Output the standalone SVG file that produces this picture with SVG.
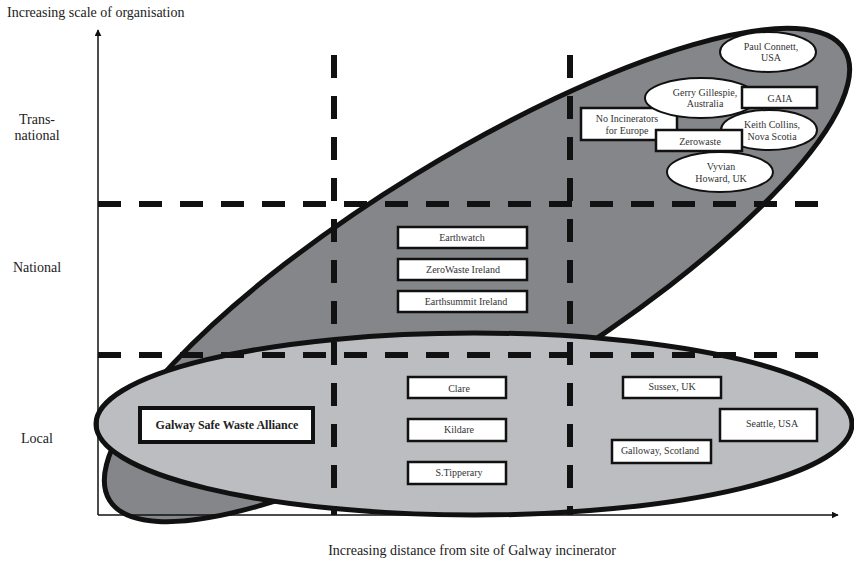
<svg xmlns="http://www.w3.org/2000/svg" width="854" height="561" viewBox="0 0 854 561">
  <style>
    .lbl { font-size: 14px; fill: #222; }
    .t { font-size: 10px; text-anchor: middle; fill: #333; }
    .box { fill: #fff; stroke: #111; stroke-width: 2.5; }
    .oval { fill: #fff; stroke: #111; stroke-width: 2; }
    .grid { stroke: #111; stroke-width: 6; stroke-dasharray: 23 18; fill: none; }
    .axis { stroke: #111; stroke-width: 1.5; fill: none; }
  </style>
  <defs>
    <marker id="arr" viewBox="0 0 10 10" refX="9" refY="5" markerWidth="7" markerHeight="7" orient="auto" markerUnits="userSpaceOnUse">
      <path d="M0,0 L10,5 L0,10 z" fill="#111"/>
    </marker>
  </defs>
  <rect width="854" height="561" fill="#fff"/>

  <!-- axis titles and row labels -->
  <g font-family="Liberation Serif, serif">
    <text class="lbl" font-family="Liberation Serif" x="7" y="17">Increasing scale of organisation</text>
    <text class="lbl" font-family="Liberation Serif" x="472" y="555" text-anchor="middle">Increasing distance from site of Galway incinerator</text>
    <text class="lbl" font-family="Liberation Serif" x="37" y="124" text-anchor="middle">Trans-</text>
    <text class="lbl" font-family="Liberation Serif" x="37" y="140" text-anchor="middle">national</text>
    <text class="lbl" font-family="Liberation Serif" x="37" y="272" text-anchor="middle">National</text>
    <text class="lbl" font-family="Liberation Serif" x="37" y="443" text-anchor="middle">Local</text>
  </g>

  <!-- regions -->
  <g id="region-wide">
    <ellipse cx="477" cy="275" rx="431" ry="118" transform="rotate(-31.5 477 275)" fill="#85868a" stroke="#111" stroke-width="5"/>
  </g>
  <g id="region-local">
    <ellipse cx="474" cy="424" rx="378" ry="91" fill="#bcbdc0" stroke="#111" stroke-width="5"/>
  </g>

  <!-- axes and grid -->
  <g id="connectors">
    <line class="axis" x1="98" y1="515" x2="98" y2="30" marker-end="url(#arr)"/>
    <line class="axis" x1="98" y1="515" x2="838" y2="515" marker-end="url(#arr)"/>
    <line class="grid" x1="98" y1="204" x2="828" y2="204"/>
    <line class="grid" x1="98" y1="355" x2="828" y2="355"/>
    <line class="grid" x1="334" y1="55" x2="334" y2="515"/>
    <line class="grid" x1="570" y1="55" x2="570" y2="515"/>
  </g>

  <g font-family="Liberation Serif, serif">
  <!-- national tier -->
  <g id="earthwatch"><rect class="box" x="398" y="227" width="129" height="21"/><text class="t" font-family="Liberation Serif" x="462" y="241">Earthwatch</text></g>
  <g id="zerowaste-ireland"><rect class="box" x="398" y="259" width="129" height="21"/><text class="t" font-family="Liberation Serif" x="463" y="273">ZeroWaste Ireland</text></g>
  <g id="earthsummit-ireland"><rect class="box" x="398" y="291" width="129" height="21"/><text class="t" font-family="Liberation Serif" x="466" y="305">Earthsummit Ireland</text></g>

  <!-- local tier -->
  <g id="galway-alliance"><rect x="140" y="408" width="173" height="34" fill="#fff" stroke="#111" stroke-width="4"/><text font-family="Liberation Serif" x="227" y="429" text-anchor="middle" font-size="12" font-weight="bold" fill="#222">Galway Safe Waste Alliance</text></g>
  <g id="clare"><rect class="box" x="408" y="377" width="98" height="21"/><text class="t" font-family="Liberation Serif" x="459" y="392">Clare</text></g>
  <g id="kildare"><rect class="box" x="408" y="419" width="98" height="22"/><text class="t" font-family="Liberation Serif" x="459" y="433">Kildare</text></g>
  <g id="tipperary"><rect class="box" x="408" y="462" width="98" height="22"/><text class="t" font-family="Liberation Serif" x="459" y="476">S.Tipperary</text></g>
  <g id="sussex"><rect class="box" x="623" y="377" width="98" height="21"/><text class="t" font-family="Liberation Serif" x="672" y="390">Sussex, UK</text></g>
  <g id="seattle"><rect class="box" x="720" y="409" width="97" height="32"/><text class="t" font-family="Liberation Serif" x="772" y="427">Seattle, USA</text></g>
  <g id="galloway"><rect class="box" x="612" y="440" width="99" height="23"/><text class="t" font-family="Liberation Serif" x="660" y="454">Galloway, Scotland</text></g>

  <!-- transnational tier -->
  <g id="no-incinerators"><rect class="box" x="581" y="108" width="96" height="32"/><text class="t" font-family="Liberation Serif" x="627" y="122">No Incinerators</text><text class="t" font-family="Liberation Serif" x="627" y="134">for Europe</text></g>
  <g id="gerry-gillespie"><ellipse class="oval" cx="701" cy="98" rx="56" ry="20"/><text class="t" font-family="Liberation Serif" x="705" y="96">Gerry Gillespie,</text><text class="t" font-family="Liberation Serif" x="705" y="107">Australia</text></g>
  <g id="gaia"><rect class="box" x="742" y="87" width="75" height="21"/><text class="t" font-family="Liberation Serif" x="780" y="102">GAIA</text></g>
  <g id="keith-collins"><ellipse class="oval" cx="769" cy="130" rx="48" ry="20"/><text class="t" font-family="Liberation Serif" x="772" y="128">Keith Collins,</text><text class="t" font-family="Liberation Serif" x="772" y="140">Nova Scotia</text></g>
  <g id="zerowaste"><rect class="box" x="656" y="130" width="86" height="21"/><text class="t" font-family="Liberation Serif" x="700" y="145">Zerowaste</text></g>
  <g id="vyvian-howard"><ellipse class="oval" cx="720" cy="172" rx="53" ry="20"/><text class="t" font-family="Liberation Serif" x="721" y="170">Vyvian</text><text class="t" font-family="Liberation Serif" x="721" y="182">Howard, UK</text></g>
  <g id="paul-connett"><ellipse class="oval" cx="768" cy="52" rx="48" ry="20"/><text class="t" font-family="Liberation Serif" x="771" y="50">Paul Connett,</text><text class="t" font-family="Liberation Serif" x="771" y="61">USA</text></g>
  </g>
</svg>
